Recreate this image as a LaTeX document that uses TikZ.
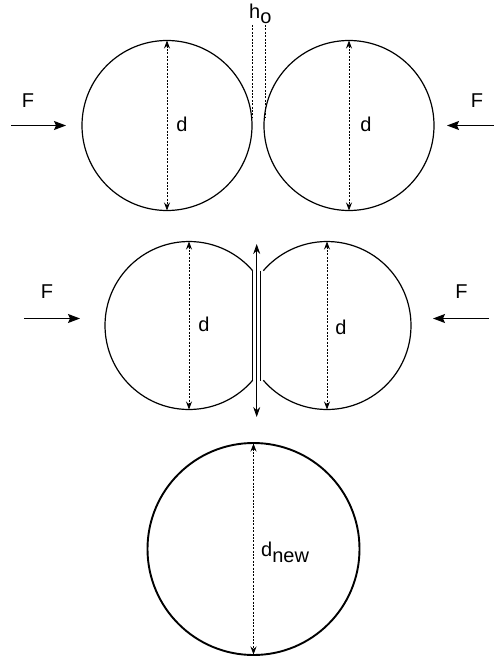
\documentclass[tikz,border=0pt]{standalone}
\usepackage{fontspec}
\setmainfont{Liberation Sans}
\usetikzlibrary{arrows.meta,calc}
\begin{document}
\begin{tikzpicture}[x=1pt,y=-1pt,
  ball/.style={line width=1.2pt},
  bigball/.style={line width=1.9pt},
  dia/.style={line width=0.9pt, dash pattern=on 2pt off 1.4pt, {Stealth[length=8pt,width=6pt]}-{Stealth[length=8pt,width=6pt]}},
  force/.style={line width=1pt, -{Stealth[length=12pt,width=9pt,inset=2pt]}},
  gap/.style={line width=0.9pt, dash pattern=on 2pt off 1.4pt},
  lab/.style={font=\fontsize{20}{22}\selectfont, inner sep=0pt},
  flat/.style={line width=1.5pt}
]
\useasboundingbox (0,0) rectangle (494,658);
% ---- top row ----
\coordinate (c1) at (167,125.5);
\coordinate (c2) at (349,125.5);
\draw[ball] (c1) circle[radius=85];
\draw[ball] (c2) circle[radius=85];
\coordinate (t1) at (167,40.5); \coordinate (b1) at (167,210.5);
\coordinate (t2) at (349,40.5); \coordinate (b2) at (349,210.5);
\draw[dia] (t1) -- (b1);
\draw[dia] (t2) -- (b2);
\node[lab] (d1) at (182,124) {d};
\node[lab] (d2) at (366,124) {d};
\coordinate (g1a) at (252,25); \coordinate (g1b) at (252,118);
\coordinate (g2a) at (265,25); \coordinate (g2b) at (265,118);
\draw[gap] (g1a) -- (g1b);
\draw[gap] (g2a) -- (g2b);
\node[lab, anchor=base west] (ho) at (249,19) {h\raisebox{-5pt}{o}};
\node[lab] (F1) at (28,101) {F};
\node[lab] (F2) at (477,101) {F};
\coordinate (f1s) at (11,125.5); \coordinate (f1e) at (66,125.5);
\coordinate (f2s) at (494,125.5); \coordinate (f2e) at (447,125.5);
\draw[force] (f1s) -- (f1e);
\draw[force] (f2s) -- (f2e);
% ---- middle row ----
\coordinate (m1) at (189,325.5);
\coordinate (m2) at (327,325.5);
\draw[ball] ($(m1)+(40.7:84)$) arc[start angle=40.7, end angle=319.3, radius=84];
\draw[ball] ($(m2)+(139.3:84)$) arc[start angle=139.3, end angle=-139.3, radius=84];
\coordinate (L1) at (252.7,270.5); \coordinate (L2) at (252.7,380.5);
\coordinate (R1) at (260.7,270.5); \coordinate (R2) at (260.7,380.5);
\draw[flat] (L1) -- (L2);
\draw[flat] (R1) -- (R2);
\coordinate (va) at (256.7,244); \coordinate (vb) at (256.7,417);
\draw[line width=0.9pt, {Stealth[length=10pt,width=7pt]}-{Stealth[length=10pt,width=7pt]}] (va) -- (vb);
\coordinate (mt1) at (189,241.5); \coordinate (mb1) at (189,409.5);
\coordinate (mt2) at (327,241.5); \coordinate (mb2) at (327,409.5);
\draw[dia] (mt1) -- (mb1);
\draw[dia] (mt2) -- (mb2);
\node[lab] (d3) at (204,324) {d};
\node[lab] (d4) at (341,327) {d};
\node[lab] (F3) at (47,292) {F};
\node[lab] (F4) at (461.5,292) {F};
\coordinate (f3s) at (24,318.5); \coordinate (f3e) at (80,318.5);
\coordinate (f4s) at (489,318.5); \coordinate (f4e) at (433,318.5);
\draw[force] (f3s) -- (f3e);
\draw[force] (f4s) -- (f4e);
% ---- bottom ----
\coordinate (c3) at (253.5,549);
\draw[bigball] (c3) circle[radius=106];
\coordinate (t3) at (253.5,443.5); \coordinate (b3) at (253.5,654.5);
\draw[dia] (t3) -- (b3);
\node[lab, anchor=base west] (dn) at (261,556) {d\raisebox{-6pt}{new}};
\end{tikzpicture}
\end{document}
